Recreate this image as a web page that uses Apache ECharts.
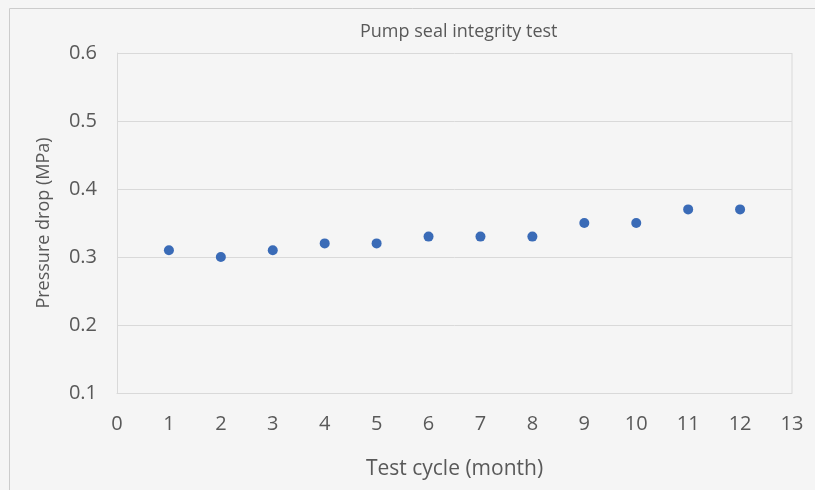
<!DOCTYPE html>
<html>
<head>
<meta charset="utf-8">
<script src="https://cdn.jsdelivr.net/npm/echarts@6/dist/echarts.min.js"></script>
<style>
  html, body { margin: 0; padding: 0; background: #f5f5f5; }
  #chart { width: 815px; height: 490px; }
</style>
</head>
<body>
<div id="chart"></div>
<script>
// test cycle (month) and measured pressure drop (MPa)
var cycles = [1, 2, 3, 4, 5, 6, 7, 8, 9, 10, 11, 12];
var pressureDrop = [0.31, 0.30, 0.31, 0.32, 0.32, 0.33, 0.33, 0.33, 0.35, 0.35, 0.37, 0.37];
var xRange = [0, 13];
var yRange = [0.1, 0.6];

var points = cycles.map(function (c, i) { return [c, pressureDrop[i]]; });

var chart = echarts.init(document.getElementById("chart"));
var labelColor = "#595959";
var gridColor = "#d9d9d9";
var font = "'Open Sans', 'Noto Sans', sans-serif";

chart.setOption({
  backgroundColor: "#f5f5f5",
  animation: false,
  textStyle: { fontFamily: font },
  title: {
    text: "Pump seal integrity test",
    left: 355,
    top: 18,
    textStyle: { color: labelColor, fontSize: 18, fontWeight: "normal", fontFamily: font }
  },
  grid: { left: 117, right: 23, top: 53, bottom: 97 },
  xAxis: {
    type: "value",
    min: xRange[0],
    max: xRange[1],
    interval: 1,
    name: "Test cycle (month)",
    nameLocation: "middle",
    nameGap: 66,
    nameTextStyle: { color: labelColor, fontSize: 21 },
    axisLine: { show: true, lineStyle: { color: gridColor } },
    axisTick: { show: false },
    axisLabel: { color: labelColor, fontSize: 20, margin: 21 },
    splitLine: { show: false }
  },
  yAxis: {
    type: "value",
    min: yRange[0],
    max: yRange[1],
    interval: 0.1,
    name: "Pressure drop (MPa)",
    nameLocation: "middle",
    nameGap: 64,
    nameTextStyle: { color: labelColor, fontSize: 18 },
    axisLine: { show: true, lineStyle: { color: gridColor } },
    axisTick: { show: false },
    axisLabel: { color: labelColor, fontSize: 20, margin: 20 },
    splitLine: { show: true, lineStyle: { color: gridColor } }
  },
  series: [{
    type: "scatter",
    data: points,
    symbolSize: 10,
    itemStyle: { color: "#3a6bb7", opacity: 1 }
  }]
});

// outer chart border and right edge of plot area
var a = chart.convertToPixel({ gridIndex: 0 }, [xRange[1], yRange[0]]);
var b = chart.convertToPixel({ gridIndex: 0 }, [xRange[1], yRange[1]]);
chart.setOption({
  graphic: [{
    type: "rect",
    shape: { x: 9.5, y: 8.5, width: 830, height: 500 },
    style: { fill: "none", stroke: "#cccccc", lineWidth: 1 },
    silent: true
  }, {
    type: "line",
    shape: { x1: a[0], y1: a[1], x2: b[0], y2: b[1] },
    style: { stroke: gridColor, lineWidth: 1 },
    silent: true
  }]
});
</script>
</body>
</html>
